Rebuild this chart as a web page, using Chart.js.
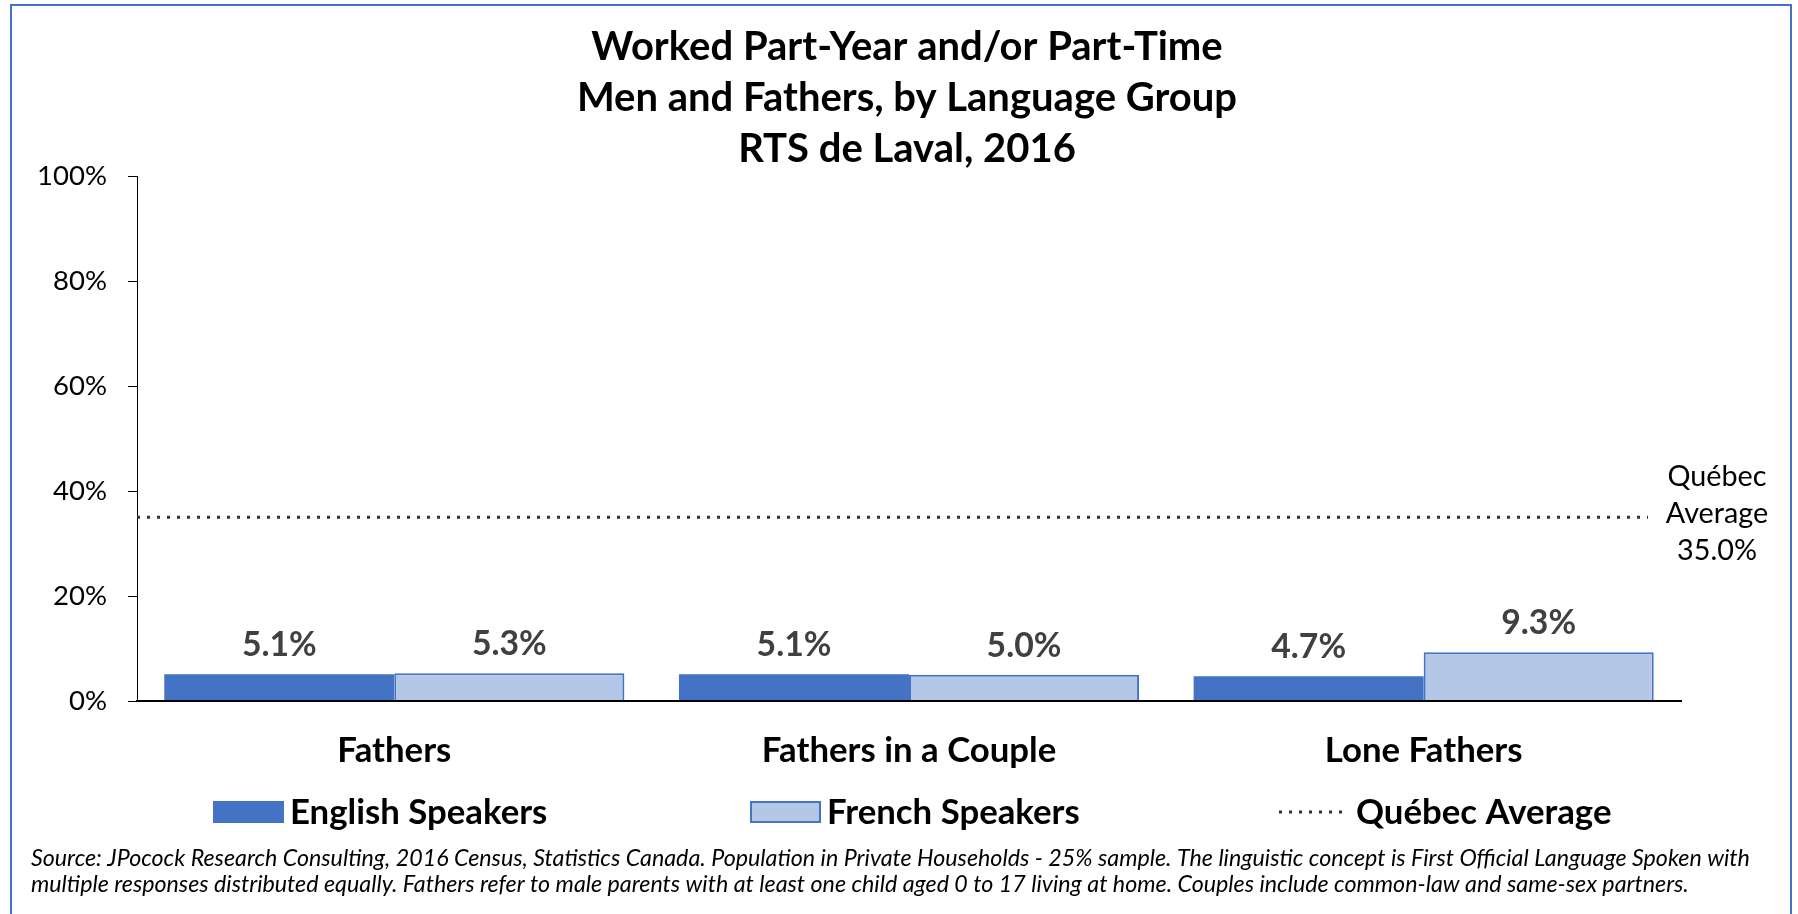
<!DOCTYPE html>
<html>
<head>
<meta charset="utf-8">
<script src="https://cdn.jsdelivr.net/npm/chart.js@4.4.1/dist/chart.umd.min.js"></script>
<style>
  html, body { margin: 0; padding: 0; background: #ffffff; width: 1798px; height: 914px; overflow: hidden; }
  #frame { position: absolute; left: 10px; top: 4px; width: 1782px; height: 940px; border: 2px solid #4472C4; box-sizing: border-box; }
  .wrap { position: absolute; left: 0; top: 0; width: 1798px; height: 914px; }
</style>
</head>
<body>
<div id="frame"></div>
<div class="wrap"><canvas id="chart"></canvas></div>
<div class="wrap"><canvas id="avgLine"></canvas></div>
<script>
// ---- data ----
const categories = ['Fathers', 'Fathers in a Couple', 'Lone Fathers'];
const englishSpeakers = [5.1, 5.1, 4.7];
const frenchSpeakers = [5.3, 5.0, 9.3];
const quebecAverage = 35.0;
const yTickLabels = ['0%', '20%', '40%', '60%', '80%', '100%'];
const seriesNames = ['English Speakers', 'French Speakers', 'Québec Average'];
const titleLines = ['Worked Part-Year and/or Part-Time', 'Men and Fathers, by Language Group', 'RTS de Laval, 2016'];
const avgLabelLines = ['Québec', 'Average'];
const noteLines = [
  'Source: JPocock Research Consulting, 2016 Census, Statistics Canada. Population in Private Households - 25% sample. The linguistic concept is First Official Language Spoken with',
  'multiple responses distributed equally. Fathers refer to male parents with at least one child aged 0 to 17 living at home. Couples include common-law and same-sex partners.'
];

// ---- styling helpers ----
const FAMILY = 'Lato, "Open Sans", "DejaVu Sans", sans-serif';
const mctx = document.createElement('canvas').getContext('2d');
function fit(text, target, weight, style) {
  mctx.font = (style || 'normal') + ' ' + (weight || 'normal') + ' 100px ' + FAMILY;
  const w = mctx.measureText(text).width;
  return Math.round(100 * target / w * 4) / 4;
}
function fontStr(size, weight, style) {
  return (style || 'normal') + ' ' + (weight || 'normal') + ' ' + size + 'px ' + FAMILY;
}
const S = {
  title: fit(titleLines[0], 631, 'bold'),
  cat: fit(categories[1], 295, 'bold'),
  legend: fit(seriesNames[0], 257, 'bold'),
  value: fit('5.1%', 75, 'bold'),
  tick: fit('100%', 70, 'normal'),
  avg: fit('Average', 102, 'normal'),
  note: fit(noteLines[0], 1723, 'normal', 'italic')
};

const BLUE = '#4472C4';
const LIGHT = '#B4C7E7';
const DOT = '#333333';
const X_AXIS_H = 100;
const LAYOUT = { padding: { left: 0, right: 117, top: 176, bottom: 914 - 701 - X_AXIS_H } };
const avgStyle = { borderColor: DOT, borderWidth: 3, borderDash: [3, 7] };

const overlay = {
  id: 'overlay',
  afterDatasetsDraw(chart) {
    const ctx = chart.ctx;
    ctx.save();
    ctx.font = fontStr(S.value, 'bold');
    ctx.fillStyle = '#404040';
    ctx.textAlign = 'center';
    ctx.textBaseline = 'alphabetic';
    [0, 1].forEach(di => {
      const meta = chart.getDatasetMeta(di);
      meta.data.forEach((bar, i) => {
        const v = chart.data.datasets[di].data[i];
        ctx.fillText(v.toFixed(1) + '%', bar.x, bar.y - 18);
      });
    });
    const yAvg = chart.scales.y.getPixelForValue(quebecAverage);
    ctx.font = fontStr(S.avg, 'normal');
    ctx.fillStyle = '#000';
    const lines = avgLabelLines.concat([quebecAverage.toFixed(1) + '%']);
    lines.forEach((t, i) => ctx.fillText(t, 1717, yAvg - 31 + i * 37));
    ctx.restore();
  },
  afterDraw(chart) {
    const ctx = chart.ctx;
    ctx.save();
    ctx.fillStyle = '#000';
    ctx.textAlign = 'center';
    ctx.textBaseline = 'alphabetic';
    ctx.font = fontStr(S.title, 'bold');
    titleLines.forEach((t, i) => ctx.fillText(t, 907, 59.5 + i * 51));
    const ds = chart.data.datasets;
    const lgY = 801, boxW = 71, boxH = 22;
    const starts = [213, 750, 1279];
    ctx.textAlign = 'left';
    ctx.font = fontStr(S.legend, 'bold');
    ctx.fillStyle = ds[0].backgroundColor;
    ctx.fillRect(starts[0], lgY, boxW, boxH);
    ctx.fillStyle = ds[1].backgroundColor;
    ctx.fillRect(starts[1], lgY, boxW, boxH);
    ctx.strokeStyle = ds[1].borderColor;
    ctx.lineWidth = 2;
    ctx.strokeRect(starts[1] + 1, lgY + 1, boxW - 2, boxH - 2);
    ctx.strokeStyle = avgStyle.borderColor;
    ctx.lineWidth = avgStyle.borderWidth;
    ctx.setLineDash(avgStyle.borderDash);
    ctx.beginPath();
    ctx.moveTo(starts[2], lgY + boxH / 2);
    ctx.lineTo(starts[2] + 66, lgY + boxH / 2);
    ctx.stroke();
    ctx.setLineDash([]);
    ctx.fillStyle = '#000';
    seriesNames.forEach((t, i) => ctx.fillText(t, starts[i] + 77, 824));
    ctx.font = fontStr(S.note, 'normal', 'italic');
    noteLines.forEach((t, i) => ctx.fillText(t, 31, 866 + i * 26));
    ctx.restore();
  }
};

// main bar chart
new Chart(document.getElementById('chart'), {
  type: 'bar',
  data: {
    labels: categories,
    datasets: [
      { label: seriesNames[0], data: englishSpeakers, backgroundColor: BLUE, borderColor: BLUE, borderWidth: 0,
        barPercentage: 1.0, categoryPercentage: 0.894 },
      { label: seriesNames[1], data: frenchSpeakers, backgroundColor: LIGHT, borderColor: BLUE, borderWidth: 2,
        barPercentage: 1.0, categoryPercentage: 0.894 }
    ]
  },
  options: {
    responsive: true,
    maintainAspectRatio: false,
    animation: false,
    devicePixelRatio: 1,
    layout: LAYOUT,
    plugins: { legend: { display: false }, title: { display: false }, tooltip: { enabled: false } },
    scales: {
      x: {
        type: 'category',
        offset: true,
        grid: { display: false, drawTicks: false },
        border: { display: true, color: '#000', width: 2, z: 1 },
        ticks: { color: '#000', font: { family: FAMILY, size: S.cat, weight: 'bold' }, padding: 50 - 0.6 * S.cat, maxRotation: 0 },
        afterFit: s => { s.height = X_AXIS_H; }
      },
      y: {
        min: 0, max: 100,
        ticks: { stepSize: 20, color: '#000', padding: 21, font: { family: FAMILY, size: S.tick },
          callback: (v, i) => yTickLabels[i] },
        grid: { display: true, drawOnChartArea: false, drawTicks: true, tickLength: 9, color: '#000', lineWidth: 1 },
        border: { display: true, color: '#000', width: 1 },
        afterFit: s => { s.width = 137; }
      }
    }
  },
  plugins: [overlay]
});

// Québec average reference line, on a transparent chart with the same plot area
new Chart(document.getElementById('avgLine'), {
  type: 'line',
  data: {
    datasets: [
      { label: seriesNames[2], data: [{ x: 0, y: quebecAverage }, { x: 1, y: quebecAverage }],
        borderColor: avgStyle.borderColor, borderWidth: avgStyle.borderWidth, borderDash: avgStyle.borderDash,
        pointRadius: 0, fill: false }
    ]
  },
  options: {
    responsive: true,
    maintainAspectRatio: false,
    animation: false,
    devicePixelRatio: 1,
    layout: LAYOUT,
    plugins: { legend: { display: false }, title: { display: false }, tooltip: { enabled: false } },
    scales: {
      x: { type: 'linear', min: 0, max: 1544 / 1511, grid: { display: false }, border: { display: false },
        ticks: { display: false }, afterFit: s => { s.height = X_AXIS_H; } },
      y: { min: 0, max: 100, grid: { display: false }, border: { display: false },
        ticks: { display: false }, afterFit: s => { s.width = 137; } }
    }
  }
});
</script>
</body>
</html>
